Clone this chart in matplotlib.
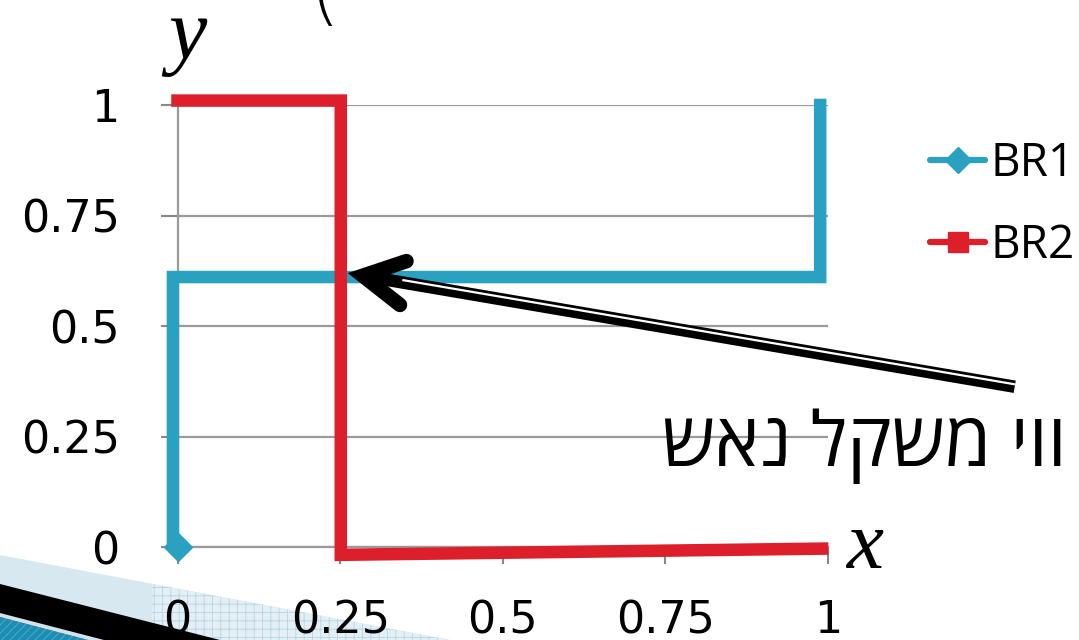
import matplotlib
matplotlib.use('Agg')
import matplotlib.pyplot as plt
from matplotlib.lines import Line2D
from matplotlib.patches import Polygon
import matplotlib.transforms as mtransforms

# ---- data ----
series_names = ['BR1', 'BR2']
br1_x = [0.0, -0.007, -0.007, 0.988, 0.988]
br1_y = [0.0, 0.01, 0.611, 0.611, 1.0]
br2_x = [0.0, 0.251, 0.251, 0.991]
br2_y = [1.01, 1.01, -0.017, -0.003]
tick_values = [0, 0.25, 0.5, 0.75, 1]
tick_labels = ['0', '0.25', '0.5', '0.75', '1']
annotation_text = 'ווי משקל נאש'   # logical order (right-to-left)
arrow_tip = (0.285, 0.614)
arrow_tail = (1.287, 0.363)
head_upper = (0.352, 0.647)
head_lower = (0.342, 0.548)

blue = '#2aa1c0'
red = '#dc1f2b'
grid_c = '#9a9a9a'

plt.rcParams['font.family'] = ['Open Sans', 'DejaVu Sans']

W, H = 1079, 640
fig = plt.figure(figsize=(W / 100, H / 100), dpi=100)
fig.patch.set_facecolor('white')

def px(x, y):
    return (x / W, 1 - y / H)

ax = fig.add_axes([177.5 / W, 1 - 547.3 / H, 650.5 / W, 442.3 / H])
ax.set_xlim(0, 1)
ax.set_ylim(0, 1)
ax.set_facecolor('none')

ax.plot(br1_x, br1_y, color=blue, lw=9, solid_capstyle='projecting',
        solid_joinstyle='miter', marker='D', ms=14, markevery=[0],
        clip_on=False, zorder=3)
ax.plot(br2_x, br2_y, color=red, lw=9, solid_capstyle='projecting',
        solid_joinstyle='miter', clip_on=False, zorder=4)

ax.set_xticks(tick_values)
ax.set_xticklabels(tick_labels)
ax.set_yticks(tick_values)
ax.set_yticklabels(tick_labels)
ax.yaxis.grid(True, color=grid_c, lw=1.6)
ax.set_axisbelow(True)
for s in ['top', 'right']:
    ax.spines[s].set_visible(False)
for s in ['left', 'bottom']:
    ax.spines[s].set_color(grid_c)
    ax.spines[s].set_linewidth(1.6)
ax.tick_params(axis='both', direction='out', length=12.5, width=1.5,
               color='#888888', labelsize=32, labelcolor='black')
for lab in ax.get_xticklabels() + ax.get_yticklabels():
    lab.set_family(['DejaVu Sans'])
ax.tick_params(axis='y', pad=29)
ax.tick_params(axis='x', pad=25)

# arrow annotation (double-lined shaft + open head)
ax.plot([arrow_tip[0], arrow_tail[0]], [arrow_tip[1], arrow_tail[1]],
        color='black', lw=9, solid_capstyle='butt', clip_on=False, zorder=6)
off = mtransforms.offset_copy(ax.transData, fig=fig, x=0.3, y=2.4, units='dots')
fr = 0.06
wx0 = arrow_tip[0] + fr * (arrow_tail[0] - arrow_tip[0])
wy0 = arrow_tip[1] + fr * (arrow_tail[1] - arrow_tip[1])
ax.plot([wx0, arrow_tail[0]], [wy0, arrow_tail[1]], color='white', lw=1.6,
        solid_capstyle='butt', clip_on=False, zorder=7, transform=off)
ax.plot([head_upper[0], arrow_tip[0], head_lower[0]],
        [head_upper[1], arrow_tip[1], head_lower[1]], color='black', lw=10.5,
        solid_capstyle='round', solid_joinstyle='miter', clip_on=False, zorder=8)

# axis symbols
fig.text(*px(168, 58), 'y', fontsize=62, family='Liberation Serif',
         style='italic', va='baseline', ha='left')
fig.text(*px(846, 568), 'x', fontsize=60, family='Liberation Serif',
         style='italic', va='baseline', ha='left')

# Hebrew label (reverse for visual order)
fig.text(*px(662, 466), annotation_text[::-1], fontsize=54,
         va='baseline', ha='left')

# cut-off title fragment
fig.text(*px(310, 16), '(', fontsize=56, family='DejaVu Sans',
         va='baseline', ha='left', fontweight='light')

# legend
handles = [Line2D([], [], color=blue, lw=4.5, marker='D', ms=13,
                  solid_capstyle='round'),
           Line2D([], [], color=red, lw=4.5, marker='s', ms=14,
                  solid_capstyle='round')]
fig.legend(handles, series_names, loc='center left',
           bbox_to_anchor=(930 / W, 1 - 205 / H), frameon=False,
           fontsize=33, handlelength=1.2, handletextpad=0.12,
           labelspacing=0.8, borderpad=0, borderaxespad=0)

# slide decoration bottom-left
light = Polygon([px(0, 555), px(450, 640), px(0, 640)], closed=True,
                transform=fig.transFigure, facecolor='#d7e8f0',
                edgecolor='none', zorder=-2)
fig.add_artist(light)
plt.rcParams['hatch.linewidth'] = 0.6
grid_area = Polygon([px(152, 584), px(450, 640), px(152, 640)], closed=True,
                    transform=fig.transFigure, facecolor='#e3eff5',
                    edgecolor='#b5d4e3', hatch='++', lw=0, zorder=-1)
fig.add_artist(grid_area)
black = Polygon([px(0, 584), px(220, 640), px(0, 640)], closed=True,
                transform=fig.transFigure, facecolor='black',
                edgecolor='none', zorder=5)
fig.add_artist(black)
teal = Polygon([px(0, 617), px(88, 640), px(0, 640)], closed=True,
               transform=fig.transFigure, facecolor='#1f8db2',
               edgecolor='#48b3d3', hatch='////', lw=0, zorder=6)
fig.add_artist(teal)
sep = Polygon([px(0, 613), px(0, 617), px(88, 640), px(104, 640)],
              closed=True, transform=fig.transFigure, facecolor='#cfe3ec',
              edgecolor='none', zorder=6)
fig.add_artist(sep)

fig.savefig('out.png', dpi=100)
